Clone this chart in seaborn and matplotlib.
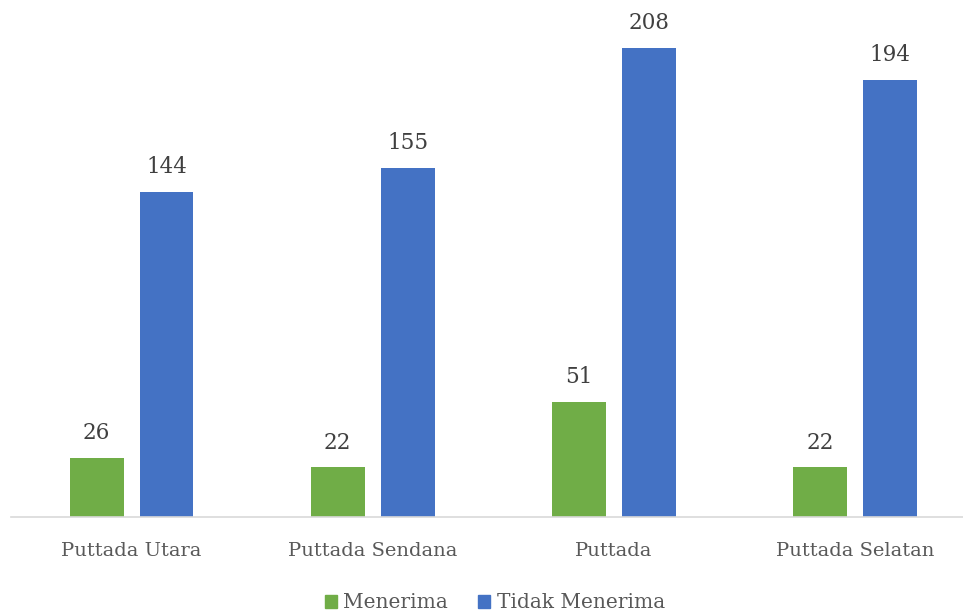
import pandas
import seaborn
import matplotlib.pyplot as plt

wilayah = ['Puttada Utara', 'Puttada Sendana', 'Puttada', 'Puttada Selatan']
menerima = [26, 22, 51, 22]
tidak_menerima = [144, 155, 208, 194]

df = pandas.DataFrame({
    'Wilayah': wilayah * 2,
    'Jumlah': menerima + tidak_menerima,
    'Status': ['Menerima'] * len(wilayah) + ['Tidak Menerima'] * len(wilayah),
})

seaborn.set_style('white')
plt.rcParams['font.family'] = ['DejaVu Serif']

fig = plt.figure(figsize=(9.63, 6.12), dpi=100)
ax = fig.add_axes([11 / 963, 1 - 517 / 612, 1 - 11 / 963, 517 / 612])

seaborn.barplot(data=df, x='Wilayah', y='Jumlah', hue='Status',
                palette=['#70AD47', '#4472C4'], width=0.58, gap=0.23,
                saturation=1, linewidth=0, ax=ax, legend=False)

for c in ax.containers:
    ax.bar_label(c, padding=10, fontsize=15.5, color='#404040')

ax.set_xlim(-0.5, 3.448)
ax.set_ylim(0, 229.3)
ax.set_xlabel('')
ax.set_ylabel('')
ax.set_yticks([])
ax.tick_params(axis='x', length=0, pad=18, labelsize=14, labelcolor='#595959')
for s in ['top', 'right', 'left']:
    ax.spines[s].set_visible(False)
ax.spines['bottom'].set_color('#d9d9d9')
ax.spines['bottom'].set_linewidth(1.2)

handles = [plt.Rectangle((0, 0), 1, 1, color='#70AD47'),
           plt.Rectangle((0, 0), 1, 1, color='#4472C4')]
leg = fig.legend(handles, ['Menerima', 'Tidak Menerima'], loc='lower center',
                 bbox_to_anchor=(0.514, -0.03), ncol=2, frameon=False,
                 fontsize=14.5, handlelength=0.6, handleheight=0.6,
                 handletextpad=0.3, columnspacing=1.5)
for t in leg.get_texts():
    t.set_color('#595959')

fig.savefig('out.png', dpi=100)
